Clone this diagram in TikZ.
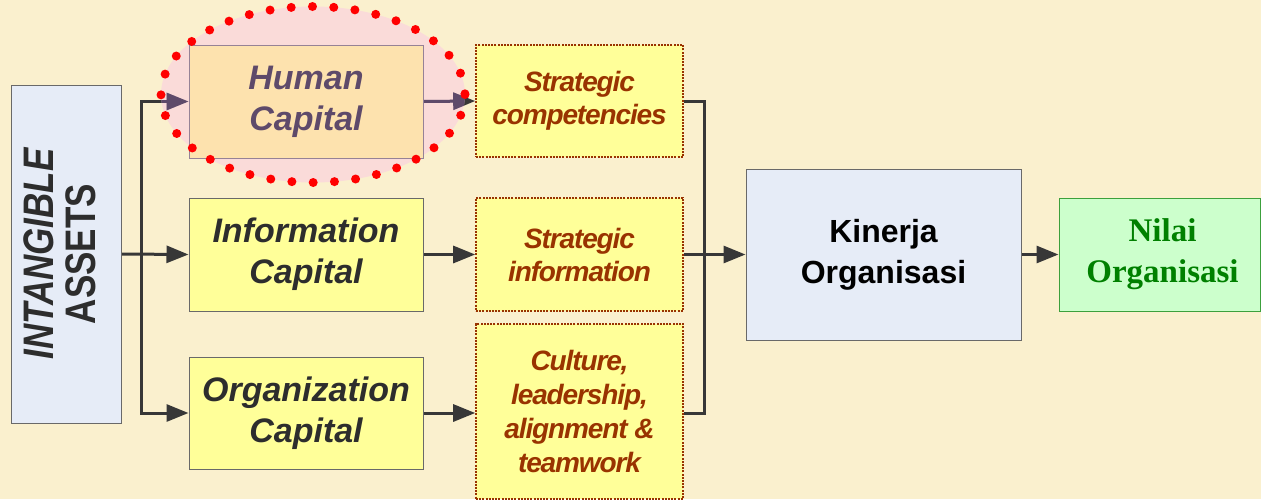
\documentclass[tikz,border=0pt]{standalone}
\usepackage{fontspec}
\setmainfont{Liberation Sans}
\newfontfamily\tightsans[LetterSpace=-4]{Liberation Sans}
\newfontfamily\timesfont{Liberation Serif}
\usetikzlibrary{arrows.meta}

\definecolor{bg}{RGB}{250,240,206}
\definecolor{capyellow}{RGB}{255,255,153}
\definecolor{boxline}{RGB}{105,105,105}
\definecolor{textgray}{RGB}{45,45,45}
\definecolor{linegray}{RGB}{55,55,55}
\definecolor{rust}{RGB}{153,51,0}
\definecolor{paleblue}{RGB}{230,236,247}
\definecolor{palegreen}{RGB}{204,255,204}
\definecolor{greenline}{RGB}{60,160,60}
\definecolor{darkgreen}{RGB}{0,128,0}
\definecolor{halopink}{RGB}{250,212,222}
\definecolor{peach}{RGB}{253,226,174}
\definecolor{plum}{RGB}{94,74,106}
\definecolor{dotred}{RGB}{255,0,0}

\pgfdeclarelayer{back}
\pgfdeclarelayer{wires}
\pgfdeclarelayer{halo}
\pgfdeclarelayer{front}
\pgfsetlayers{back,wires,halo,main,front}

\tikzset{
  capbox/.style={draw=boxline, fill=capyellow, line width=1pt, inner sep=0pt,
    minimum width=234pt, minimum height=113pt, align=center, text=textgray,
    font=\fontsize{34}{41}\selectfont\bfseries\itshape},
  stratbox/.style={draw=rust, fill=capyellow, line width=1.6pt,
    dash pattern=on 2pt off 1.2pt, inner sep=0pt,
    minimum width=207pt, minimum height=113pt, align=center, text=rust,
    font=\fontsize{28}{33}\selectfont\tightsans\bfseries\itshape},
  conn/.style={draw=linegray, line width=3pt},
  arr/.style={conn, -{Triangle[length=22pt,width=17pt]}},
}

\begin{document}
\begin{tikzpicture}[x=1pt,y=-1pt]
\useasboundingbox (0,0) rectangle (1261,499);
\begin{pgfonlayer}{back}
  \fill[bg] (0,0) rectangle (1261,499);
\end{pgfonlayer}

% source block
\node (ia) [draw=boxline, fill=paleblue, line width=1pt, inner sep=0pt,
  minimum width=110pt, minimum height=338pt] at (66,254) {};
\node (ialabel) [rotate=90, inner sep=0pt, text=textgray] at (ia.center)
  {\scalebox{1}[1.22]{\fontsize{35}{33}\selectfont\bfseries
   \begin{tabular}{@{}c@{}}\itshape INTANGIBLE\\ ASSETS\end{tabular}}};

% capitals
\node (hc) [capbox, fill=peach, draw={rgb,255:red,150;green,130;blue,150}, text=plum] at (306,101.5) {Human\\Capital};
\node (ic) [capbox] at (306,254.5) {Information\\Capital};
\node (oc) [capbox, minimum height=112pt] at (306,413) {Organization\\Capital};

% strategic outcomes
\node (sc) [stratbox, minimum height=112pt] at (579.5,101) {Strategic\\competencies};
\node (si) [stratbox] at (579.5,254.5) {Strategic\\information};
\node (cu) [stratbox, minimum height=175pt, font=\fontsize{28}{34}\selectfont\tightsans\bfseries\itshape]
  at (579.5,411.5) {Culture,\\leadership,\\alignment \&\\teamwork};

% results
\node (ko) [draw=boxline, fill=paleblue, line width=1pt, inner sep=0pt,
  minimum width=275pt, minimum height=171pt, align=center, text=black,
  font=\fontsize{32}{41}\selectfont\bfseries] at (883.5,254.5) {Kinerja\\Organisasi};
\node (no) [draw=greenline, fill=palegreen, line width=1pt, inner sep=0pt,
  minimum width=201pt, minimum height=113pt, align=center, text=darkgreen,
  font=\fontsize{33}{41}\selectfont\timesfont\bfseries] at (1159.5,254.5) {\hspace*{6pt}Nilai\\\hspace*{6pt}Organisasi};

\coordinate (tr) at (141,254);
\coordinate (mg) at (704,254);

\begin{pgfonlayer}{wires}
  \draw[arr] (ia.east) -- (ic.west);
  \draw[arr] (tr) |- (hc.west);
  \draw[arr] (tr) |- (oc.west);
  \draw[arr] (hc.east) -- (sc.west);
  \draw[arr] (ic.east) -- (si.west);
  \draw[arr] (oc.east) -- (oc.east -| cu.west);
  \draw[conn] (sc.east) -| (mg);
  \draw[conn] (oc.east -| cu.east) -| (mg);
  \draw[arr] (si.east) -- (ko.west);
  \draw[arr] (ko.east) -- (no.west);
\end{pgfonlayer}

% highlight round the human capital block
\begin{pgfonlayer}{halo}
  \fill[halopink, fill opacity=0.75] (313,94.5) ellipse [x radius=152, y radius=88];
  \begin{scope}
    \clip (313,94.5) ellipse [x radius=152, y radius=88];
    \draw[arr, draw=plum] (tr) |- (hc.west);
    \draw[arr, draw=plum] (hc.east) -- (sc.west);
  \end{scope}
\end{pgfonlayer}
\begin{pgfonlayer}{front}
  \draw[dotred, line width=9pt, line cap=round, dash pattern=on 0pt off 21.3pt]
    (313,94.5) ellipse [x radius=152, y radius=88];
\end{pgfonlayer}
\end{tikzpicture}
\end{document}
